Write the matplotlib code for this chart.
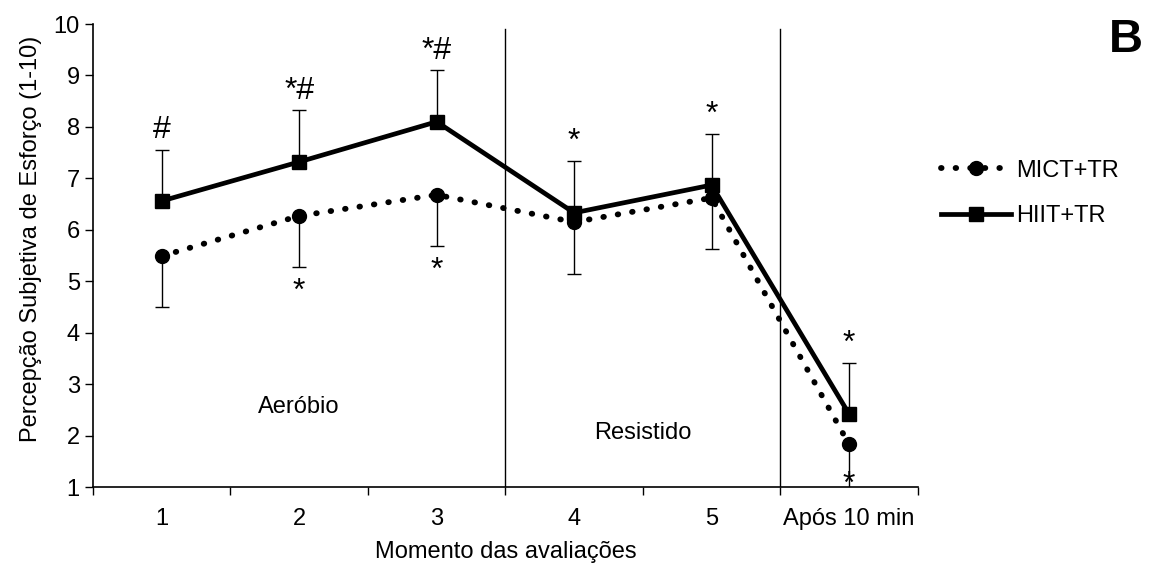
import numpy as np
import matplotlib.pyplot as plt

plt.rcParams['font.family'] = ['Liberation Sans', 'DejaVu Sans']

# data
momentos = ['1', '2', '3', '4', '5', 'Após 10 min']
mict = [5.49, 6.27, 6.68, 6.15, 6.62, 1.83]
mict_sd = [1.0, 1.0, 1.0, 1.0, 1.0, 1.0]
hiit = [6.56, 7.32, 8.10, 6.33, 6.87, 2.42]
hiit_sd = [1.0, 1.0, 1.0, 1.0, 1.0, 1.0]

# significance marks
hiit_marks = ['#', '*#', '*#', '*', '*', '*']
mict_marks = ['', '*', '*', '', '', '*']

x = np.arange(len(momentos))

fig = plt.figure(figsize=(11.52, 5.65), dpi=100)
ax = fig.add_axes([0.0807, 0.138, 0.716, 0.8195])

# MICT+TR (dotted, circles, error bars downward)
ax.errorbar(x, mict, yerr=[mict_sd, np.zeros(len(x))], fmt='none',
            ecolor='black', elinewidth=1.0, capsize=5, capthick=1.0, zorder=2)
ax.plot(x, mict, color='black', linestyle=(0, (0.1, 2.4)), linewidth=4.2,
        dash_capstyle='round', marker='o', markersize=10, label='MICT+TR', zorder=3)

# HIIT+TR (solid, squares, error bars upward)
ax.errorbar(x, hiit, yerr=[np.zeros(len(x)), hiit_sd], fmt='none',
            ecolor='black', elinewidth=1.0, capsize=5, capthick=1.0, zorder=2)
ax.plot(x, hiit, color='black', linestyle='-', linewidth=3.4,
        marker='s', markersize=10, label='HIIT+TR', zorder=4)

# annotations
for i in range(len(x)):
    top = hiit[i] + hiit_sd[i]
    ax.text(x[i], top + 0.08, hiit_marks[i], ha='center', va='bottom', fontsize=23)
    if mict_marks[i]:
        bot = max(mict[i] - mict_sd[i], 1.0)
        ax.text(x[i], max(bot - 0.18, 1.33), mict_marks[i], ha='center', va='top',
                fontsize=23, zorder=5)

# phase separators and labels
for xv in [2.5, 4.5]:
    ax.axvline(xv, ymin=0, ymax=0.99, color='black', linewidth=1.0)
ax.text(1, 2.55, 'Aeróbio', ha='center', va='center', fontsize=17)
ax.text(3.5, 2.05, 'Resistido', ha='center', va='center', fontsize=17)

ax.set_xlim(-0.5, len(x) - 0.5)
ax.set_ylim(1, 10)
ax.set_yticks(np.arange(1, 11))
ax.set_xticks(np.arange(-0.5, len(x)), labels=[])
ax.set_xticks(x, labels=momentos, minor=True)
ax.tick_params(axis='x', which='minor', length=0, labelsize=17, pad=15)
ax.tick_params(axis='x', which='major', length=6, width=1, direction='out')
ax.tick_params(axis='y', length=6, width=1, direction='out', labelsize=17)
for s in ['top', 'right']:
    ax.spines[s].set_visible(False)
for s in ['left', 'bottom']:
    ax.spines[s].set_linewidth(1.2)

ax.set_xlabel('Momento das avaliações', fontsize=17, labelpad=8)
ax.set_ylabel('Percepção Subjetiva de Esforço (1-10)', fontsize=17)
ax.yaxis.set_label_coords(-0.062, 0.535)

fig.legend(loc='upper left', bbox_to_anchor=(0.798, 0.755), frameon=False,
           fontsize=17, handlelength=3.0, labelspacing=1.0, handletextpad=0.2)

fig.text(0.977, 0.929, 'B', fontsize=34, fontweight='bold', ha='center', va='center')

fig.savefig('out.png', dpi=100)
